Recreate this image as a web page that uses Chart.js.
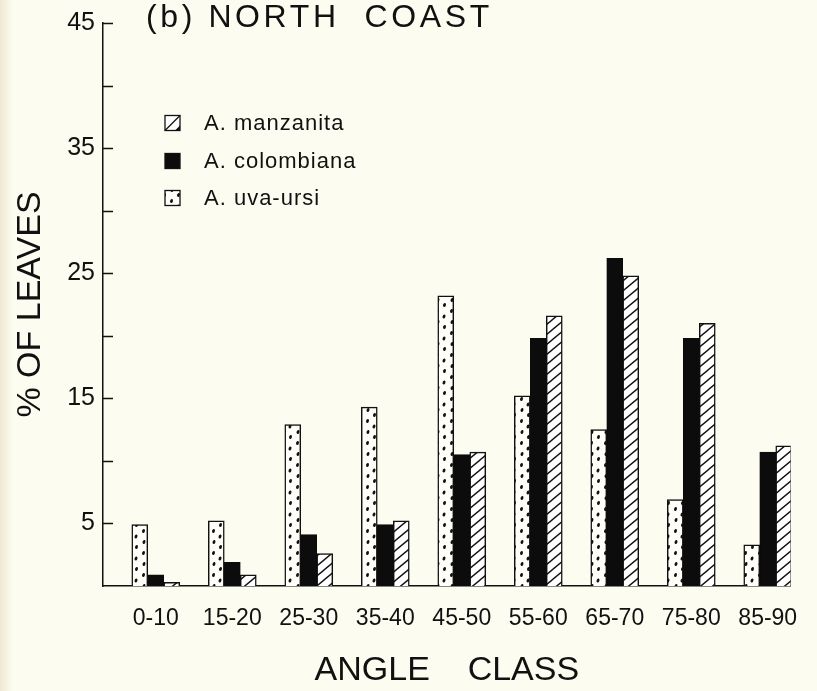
<!DOCTYPE html>
<html>
<head>
<meta charset="utf-8">
<script src="https://cdn.jsdelivr.net/npm/chart.js@4.4.1/dist/chart.umd.min.js"></script>
<style>
  html, body { margin: 0; padding: 0; }
  body {
    width: 817px; height: 691px; overflow: hidden;
    background: linear-gradient(to right, #eee7d3 0, #f7f3e2 7px, #fdfcf0 13px);
  }
  canvas { display: block; }
</style>
</head>
<body>
<canvas id="chart" width="817" height="691"></canvas>
<script>
var angleClasses = ['0-10', '15-20', '25-30', '35-40', '45-50', '55-60', '65-70', '75-80', '85-90'];

// % of leaves per angle class
var uvaUrsi    = [4.9, 5.2, 12.9, 14.3, 23.2, 15.2, 12.5, 6.9, 3.3];
var colombiana = [0.9, 1.9, 4.1, 4.9, 10.5, 19.8, 26.2, 19.8, 10.7];
var manzanita  = [0.3, 0.9, 2.6, 5.2, 10.7, 21.6, 24.8, 21.0, 11.2];

var labelledTicks = [5, 15, 25, 35, 45];

var ink = '#111';
var font = '"Liberation Sans", Arial, sans-serif';
Chart.defaults.font.family = font;
Chart.defaults.color = ink;

function hatchPattern() {
    var c = document.createElement('canvas');
    c.width = 12;
    c.height = 10;
    var ctx = c.getContext('2d');
    ctx.fillStyle = '#fff';
    ctx.fillRect(0, 0, 12, 10);
    ctx.strokeStyle = ink;
    ctx.lineWidth = 1.4;
    ctx.beginPath();
    ctx.moveTo(-12, 20); ctx.lineTo(24, -10);
    ctx.moveTo(-12, 10); ctx.lineTo(12, -10);
    ctx.moveTo(0, 20); ctx.lineTo(24, 0);
    ctx.stroke();
    return ctx.createPattern(c, 'repeat');
}

function dotPattern() {
    var c = document.createElement('canvas');
    c.width = 14;
    c.height = 22;
    var ctx = c.getContext('2d');
    ctx.fillStyle = '#fffef8';
    ctx.fillRect(0, 0, 14, 22);
    ctx.fillStyle = ink;
    [[3.5, 3], [10, 8.5], [4, 14], [10.5, 19]].forEach(function(p) {
        ctx.beginPath();
        ctx.ellipse(p[0], p[1], 1.4, 2.1, 0.3, 0, Math.PI * 2);
        ctx.fill();
    });
    return ctx.createPattern(c, 'repeat');
}

function toPoints(values) {
    return values.map(function(v, i) { return { x: i, y: v }; });
}

var dots = dotPattern();
var hatch = hatchPattern();

// inward y ticks, legend and panel title
var decor = {
    id: 'decor',
    afterDraw: function(chart) {
        var ctx = chart.ctx;
        var yScale = chart.scales.y;
        var left = chart.chartArea.left;

        ctx.save();
        ctx.strokeStyle = ink;
        ctx.lineWidth = 1.5;
        yScale.ticks.forEach(function(t) {
            if (t.value === 0) return;
            var y = Math.round(yScale.getPixelForValue(t.value)) + 0.5;
            ctx.beginPath();
            ctx.moveTo(left, y);
            ctx.lineTo(left + 10, y);
            ctx.stroke();
        });

        // legend, listed in reverse dataset order
        var rows = [123, 161, 198];
        var sets = chart.data.datasets.slice().reverse();
        ctx.font = '22px ' + font;
        ctx.textBaseline = 'middle';
        ctx.letterSpacing = '1px';
        sets.forEach(function(ds, i) {
            var x = 165, y = rows[i] - 7.5, s = 15;
            ctx.fillStyle = ds.backgroundColor === hatch ? '#fff' : ds.backgroundColor;
            ctx.fillRect(x, y, s, s);
            ctx.lineWidth = 1.3;
            ctx.strokeRect(x, y, s, s);
            if (ds.backgroundColor === hatch) {
                ctx.beginPath();
                ctx.moveTo(x, y + s);
                ctx.lineTo(x + s, y);
                ctx.stroke();
                ctx.beginPath();
                ctx.moveTo(x + s, y + s);
                ctx.lineTo(x + s, y + s - 5);
                ctx.lineTo(x + s - 5, y + s);
                ctx.closePath();
                ctx.fillStyle = ink;
                ctx.fill();
            }
            ctx.fillStyle = ink;
            ctx.fillText(ds.label, 204, rows[i] + 1);
        });

        ctx.font = '32px ' + font;
        ctx.textBaseline = 'alphabetic';
        ctx.letterSpacing = '3.6px';
        ctx.fillText('(b) NORTH  COAST', 146, 27);
        ctx.restore();
    }
};

var chart = new Chart(document.getElementById('chart'), {
    type: 'bar',
    data: {
        datasets: [
            { label: 'A. uva-ursi', data: toPoints(uvaUrsi), backgroundColor: dots, borderColor: ink, borderWidth: 1.5, barThickness: 16 },
            { label: 'A. colombiana', data: toPoints(colombiana), backgroundColor: '#0c0c0c', borderColor: '#0c0c0c', borderWidth: 1, barThickness: 16 },
            { label: 'A. manzanita', data: toPoints(manzanita), backgroundColor: hatch, borderColor: ink, borderWidth: 1.5, barThickness: 16 }
        ]
    },
    options: {
        responsive: false,
        animation: false,
        devicePixelRatio: 1,
        layout: { padding: { left: 0, top: 22, right: 25, bottom: 0 } },
        plugins: {
            legend: { display: false },
            tooltip: { enabled: false }
        },
        scales: {
            x: {
                type: 'linear',
                min: -0.69,
                max: 8.3,
                offset: false,
                grid: { display: false, drawTicks: false, offset: false },
                border: { display: true, color: ink, width: 1.5 },
                ticks: {
                    stepSize: 1,
                    autoSkip: false,
                    includeBounds: false,
                    maxRotation: 0,
                    padding: 19,
                    font: { size: 23 },
                    callback: function(v) {
                        return Number.isInteger(v) && angleClasses[v] ? angleClasses[v] : '';
                    }
                },
                title: {
                    display: true,
                    text: 'ANGLE    CLASS',
                    font: { size: 34 },
                    padding: { top: 0, bottom: 0 }
                },
                afterFit: function(scale) { scale.height = 105; }
            },
            y: {
                min: 0,
                max: 45,
                grid: { display: false, drawTicks: false },
                border: { display: true, color: ink, width: 1.5 },
                ticks: {
                    stepSize: 5,
                    padding: 8,
                    font: { size: 25 },
                    callback: function(v) {
                        return labelledTicks.indexOf(v) >= 0 ? v : '';
                    }
                },
                title: {
                    display: true,
                    text: '% OF LEAVES',
                    font: { size: 34 },
                    padding: { top: 10, bottom: 0 }
                },
                afterFit: function(scale) { scale.width = 103; }
            }
        }
    },
    plugins: [decor]
});
</script>
</body>
</html>
